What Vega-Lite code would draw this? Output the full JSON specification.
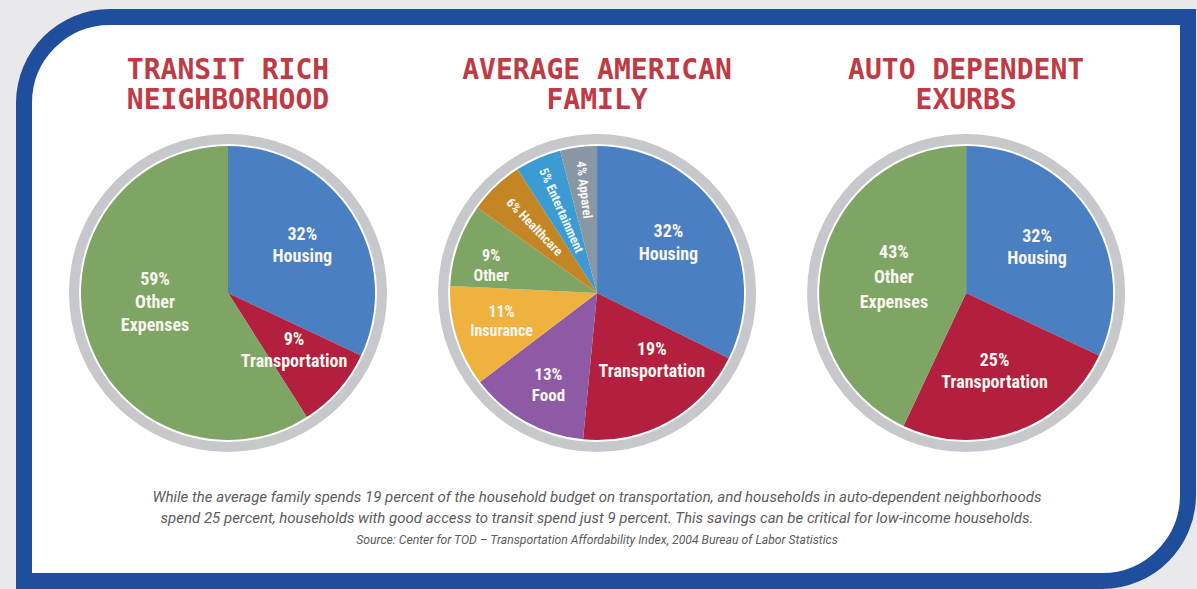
{
  "$schema": "https://vega.github.io/schema/vega-lite/v6.json",
  "width": 1197,
  "height": 589,
  "autosize": {"type": "fit", "contains": "padding"},
  "padding": {"left": 16, "top": 9, "right": 1, "bottom": 0},
  "background": "#e9e9eb",
  "config": {"view": {"stroke": null}},
  "datasets": {
    "panels": [
      {"panel": "transit", "title": "TRANSIT RICH\nNEIGHBORHOOD"},
      {"panel": "average", "title": "AVERAGE AMERICAN\nFAMILY"},
      {"panel": "auto", "title": "AUTO DEPENDENT\nEXURBS"}
    ],
    "slices": [
      {"panel": "transit", "cat": "Housing", "ord": 1, "value": 32, "label": "32%\nHousing"},
      {"panel": "transit", "cat": "Transportation", "ord": 2, "value": 9, "label": "9%\nTransportation"},
      {"panel": "transit", "cat": "Other Expenses", "ord": 3, "value": 59, "label": "59%\nOther\nExpenses"},
      {"panel": "average", "cat": "Housing", "ord": 1, "value": 32, "label": "32%\nHousing"},
      {"panel": "average", "cat": "Transportation", "ord": 2, "value": 19, "label": "19%\nTransportation"},
      {"panel": "average", "cat": "Food", "ord": 3, "value": 13, "label": "13%\nFood"},
      {"panel": "average", "cat": "Insurance", "ord": 4, "value": 11, "label": "11%\nInsurance"},
      {"panel": "average", "cat": "Other", "ord": 5, "value": 9, "label": "9%\nOther"},
      {"panel": "average", "cat": "Healthcare", "ord": 6, "value": 6, "label": "6% Healthcare"},
      {"panel": "average", "cat": "Entertainment", "ord": 7, "value": 5, "label": "5% Entertainment"},
      {"panel": "average", "cat": "Apparel", "ord": 8, "value": 4, "label": "4% Apparel"},
      {"panel": "auto", "cat": "Housing", "ord": 1, "value": 32, "label": "32%\nHousing"},
      {"panel": "auto", "cat": "Transportation", "ord": 2, "value": 25, "label": "25%\nTransportation"},
      {"panel": "auto", "cat": "Other Expenses", "ord": 3, "value": 43, "label": "43%\nOther\nExpenses"}
    ],
    "caption": [
      {"text": "While the average family spends 19 percent of the household budget on transportation, and households in auto-dependent neighborhoods\nspend 25 percent, households with good access to transit spend just 9 percent. This savings can be critical for low-income households.", "source": "Source: Center for TOD – Transportation Affordability Index, 2004 Bureau of Labor Statistics"}
    ]
  },
  "resolve": {"scale": {"theta": "independent"}},
  "layer": [
    {
      "data": {"values": [{"frame": 1}]},
      "mark": {"type": "rect", "fill": "#ffffff", "stroke": "#1f4f9c", "strokeWidth": 16, "cornerRadiusTopLeft": 86, "cornerRadiusBottomRight": 86},
      "encoding": {}
    },
    {
      "data": {"name": "panels"},
      "mark": {"type": "arc", "radius": 159, "radius2": 149, "fill": "#c6c8cb", "yOffset": -6},
      "encoding": {
        "x": {"field": "panel", "type": "nominal", "scale": {"type": "point", "domain": ["transit", "average", "auto"], "padding": 0.577, "align": 0.479}, "axis": null}
      }
    },
    {
      "data": {"name": "panels"},
      "mark": {"type": "text", "font": "DejaVu Sans Mono", "fontWeight": "bold", "fontSize": 28, "lineHeight": 30, "lineBreak": "\n", "fill": "#c03a45", "align": "center", "baseline": "middle", "dy": -228},
      "encoding": {
        "x": {"field": "panel", "type": "nominal", "scale": {"type": "point", "domain": ["transit", "average", "auto"], "padding": 0.577, "align": 0.479}, "axis": null},
        "text": {"field": "title"}
      }
    },
    {
      "data": {"name": "slices"},
      "transform": [{"filter": "datum.panel === 'transit'"}],
      "encoding": {
        "x": {"field": "panel", "type": "nominal", "scale": {"type": "point", "domain": ["transit", "average", "auto"], "padding": 0.577, "align": 0.479}, "axis": null},
        "theta": {"field": "value", "type": "quantitative", "stack": true},
        "order": {"field": "ord", "type": "quantitative"}
      },
      "layer": [
        {
          "mark": {"type": "arc", "radius": 147, "yOffset": -6},
          "encoding": {
            "color": {"field": "cat", "type": "nominal", "legend": null, "scale": {"domain": ["Housing", "Transportation", "Food", "Insurance", "Other", "Healthcare", "Entertainment", "Apparel", "Other Expenses"], "range": ["#4a7fc1", "#b3203f", "#8e5aa6", "#f0b23e", "#7fa564", "#c48625", "#3c9bd2", "#8897a3", "#7fa564"]}}
          }
        },
        {
          "mark": {"type": "text", "radius": 88, "yOffset": -6, "dy": -11, "font": "Liberation Sans Narrow, Roboto Condensed, DejaVu Sans Condensed, Roboto", "fontWeight": "bold", "fontSize": 18, "lineHeight": 22, "lineBreak": "\n", "fill": "#f7f5ee", "align": "center", "baseline": "middle"},
          "encoding": {
            "detail": {"field": "cat"},
            "text": {"condition": {"test": "datum.cat !== 'Other Expenses'", "field": "label"}, "value": ""}
          }
        },
        {
          "mark": {"type": "text", "radius": 76, "yOffset": -6, "dy": -34, "font": "Liberation Sans Narrow, Roboto Condensed, DejaVu Sans Condensed, Roboto", "fontWeight": "bold", "fontSize": 18, "lineHeight": 23, "lineBreak": "\n", "fill": "#f7f5ee", "align": "center", "baseline": "middle"},
          "encoding": {
            "detail": {"field": "cat"},
            "text": {"condition": {"test": "datum.cat === 'Other Expenses'", "field": "label"}, "value": ""}
          }
        }
      ]
    },
    {
      "data": {"name": "slices"},
      "transform": [{"filter": "datum.panel === 'average'"}],
      "encoding": {
        "x": {"field": "panel", "type": "nominal", "scale": {"type": "point", "domain": ["transit", "average", "auto"], "padding": 0.577, "align": 0.479}, "axis": null},
        "theta": {"field": "value", "type": "quantitative", "stack": true},
        "order": {"field": "ord", "type": "quantitative"}
      },
      "layer": [
        {
          "mark": {"type": "arc", "radius": 147, "yOffset": -6},
          "encoding": {
            "color": {"field": "cat", "type": "nominal", "legend": null, "scale": {"domain": ["Housing", "Transportation", "Food", "Insurance", "Other", "Healthcare", "Entertainment", "Apparel", "Other Expenses"], "range": ["#4a7fc1", "#b3203f", "#8e5aa6", "#f0b23e", "#7fa564", "#c48625", "#3c9bd2", "#8897a3", "#7fa564"]}}
          }
        },
        {
          "mark": {"type": "text", "radius": 84, "yOffset": -6, "dy": -17, "font": "Liberation Sans Narrow, Roboto Condensed, DejaVu Sans Condensed, Roboto", "fontWeight": "bold", "fontSize": 18, "lineHeight": 23, "lineBreak": "\n", "fill": "#f7f5ee", "align": "center", "baseline": "middle"},
          "encoding": {
            "detail": {"field": "cat"},
            "text": {"condition": {"test": "datum.cat === 'Housing'", "field": "label"}, "value": ""}
          }
        },
        {
          "mark": {"type": "text", "radius": 90, "yOffset": -6, "dx": 11, "dy": -22, "font": "Liberation Sans Narrow, Roboto Condensed, DejaVu Sans Condensed, Roboto", "fontWeight": "bold", "fontSize": 18, "lineHeight": 22, "lineBreak": "\n", "fill": "#f7f5ee", "align": "center", "baseline": "middle"},
          "encoding": {
            "detail": {"field": "cat"},
            "text": {"condition": {"test": "datum.cat === 'Transportation'", "field": "label"}, "value": ""}
          }
        },
        {
          "mark": {"type": "text", "radius": 100, "yOffset": -6, "dy": -5, "font": "Liberation Sans Narrow, Roboto Condensed, DejaVu Sans Condensed, Roboto", "fontWeight": "bold", "fontSize": 17, "lineHeight": 21, "lineBreak": "\n", "fill": "#f7f5ee", "align": "center", "baseline": "middle"},
          "encoding": {
            "detail": {"field": "cat"},
            "text": {"condition": {"test": "datum.cat === 'Food'", "field": "label"}, "value": ""}
          }
        },
        {
          "mark": {"type": "text", "radius": 100, "yOffset": -6, "dy": -11, "font": "Liberation Sans Narrow, Roboto Condensed, DejaVu Sans Condensed, Roboto", "fontWeight": "bold", "fontSize": 16, "lineHeight": 19, "lineBreak": "\n", "fill": "#f7f5ee", "align": "center", "baseline": "middle"},
          "encoding": {
            "detail": {"field": "cat"},
            "text": {"condition": {"test": "datum.cat === 'Insurance'", "field": "label"}, "value": ""}
          }
        },
        {
          "mark": {"type": "text", "radius": 112, "yOffset": -6, "font": "Liberation Sans Narrow, Roboto Condensed, DejaVu Sans Condensed, Roboto", "fontWeight": "bold", "fontSize": 16, "lineHeight": 20, "lineBreak": "\n", "fill": "#f7f5ee", "align": "center", "baseline": "middle"},
          "encoding": {
            "detail": {"field": "cat"},
            "text": {"condition": {"test": "datum.cat === 'Other'", "field": "label"}, "value": ""}
          }
        },
        {
          "mark": {"type": "text", "radius": 91, "angle": 46, "yOffset": -6, "font": "Liberation Sans Narrow, Roboto Condensed, DejaVu Sans Condensed, Roboto", "fontWeight": "bold", "fontSize": 13, "fill": "#f7f5ee", "align": "center", "baseline": "middle"},
          "encoding": {
            "detail": {"field": "cat"},
            "text": {"condition": {"test": "datum.cat === 'Healthcare'", "field": "label"}, "value": ""}
          }
        },
        {
          "mark": {"type": "text", "radius": 90, "angle": 66, "yOffset": -6, "font": "Liberation Sans Narrow, Roboto Condensed, DejaVu Sans Condensed, Roboto", "fontWeight": "bold", "fontSize": 13, "fill": "#eaf6fb", "align": "center", "baseline": "middle"},
          "encoding": {
            "detail": {"field": "cat"},
            "text": {"condition": {"test": "datum.cat === 'Entertainment'", "field": "label"}, "value": ""}
          }
        },
        {
          "mark": {"type": "text", "radius": 104, "angle": 83, "yOffset": -6, "font": "Liberation Sans Narrow, Roboto Condensed, DejaVu Sans Condensed, Roboto", "fontWeight": "bold", "fontSize": 13, "fill": "#f7f5ee", "align": "center", "baseline": "middle"},
          "encoding": {
            "detail": {"field": "cat"},
            "text": {"condition": {"test": "datum.cat === 'Apparel'", "field": "label"}, "value": ""}
          }
        }
      ]
    },
    {
      "data": {"name": "slices"},
      "transform": [{"filter": "datum.panel === 'auto'"}],
      "encoding": {
        "x": {"field": "panel", "type": "nominal", "scale": {"type": "point", "domain": ["transit", "average", "auto"], "padding": 0.577, "align": 0.479}, "axis": null},
        "theta": {"field": "value", "type": "quantitative", "stack": true},
        "order": {"field": "ord", "type": "quantitative"}
      },
      "layer": [
        {
          "mark": {"type": "arc", "radius": 147, "yOffset": -6},
          "encoding": {
            "color": {"field": "cat", "type": "nominal", "legend": null, "scale": {"domain": ["Housing", "Transportation", "Food", "Insurance", "Other", "Healthcare", "Entertainment", "Apparel", "Other Expenses"], "range": ["#4a7fc1", "#b3203f", "#8e5aa6", "#f0b23e", "#7fa564", "#c48625", "#3c9bd2", "#8897a3", "#7fa564"]}}
          }
        },
        {
          "mark": {"type": "text", "radius": 84, "yOffset": -6, "dy": -11, "font": "Liberation Sans Narrow, Roboto Condensed, DejaVu Sans Condensed, Roboto", "fontWeight": "bold", "fontSize": 18, "lineHeight": 22, "lineBreak": "\n", "fill": "#f7f5ee", "align": "center", "baseline": "middle"},
          "encoding": {
            "detail": {"field": "cat"},
            "text": {"condition": {"test": "datum.cat !== 'Other Expenses'", "field": "label"}, "value": ""}
          }
        },
        {
          "mark": {"type": "text", "radius": 74, "yOffset": -6, "dy": -24, "font": "Liberation Sans Narrow, Roboto Condensed, DejaVu Sans Condensed, Roboto", "fontWeight": "bold", "fontSize": 18, "lineHeight": 25, "lineBreak": "\n", "fill": "#f7f5ee", "align": "center", "baseline": "middle"},
          "encoding": {
            "detail": {"field": "cat"},
            "text": {"condition": {"test": "datum.cat === 'Other Expenses'", "field": "label"}, "value": ""}
          }
        }
      ]
    },
    {
      "data": {"name": "caption"},
      "mark": {"type": "text", "font": "Roboto", "fontStyle": "italic", "fontSize": 15, "lineHeight": 21, "lineBreak": "\n", "fill": "#5c5c5c", "align": "center", "baseline": "middle", "dx": -9, "dy": 198},
      "encoding": {"text": {"field": "text"}}
    },
    {
      "data": {"name": "caption"},
      "mark": {"type": "text", "font": "Roboto", "fontStyle": "italic", "fontSize": 12.2, "fill": "#5c5c5c", "align": "center", "baseline": "middle", "dx": -9, "dy": 241},
      "encoding": {"text": {"field": "source"}}
    }
  ]
}
